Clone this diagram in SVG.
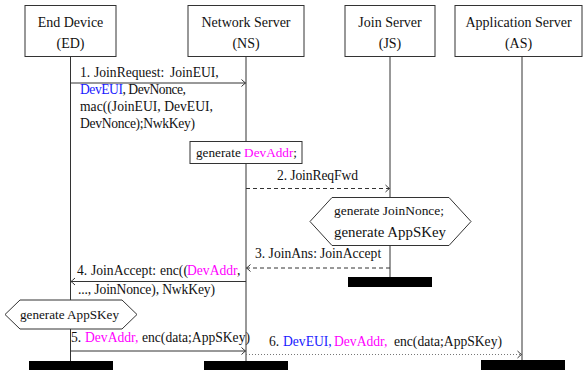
<svg xmlns="http://www.w3.org/2000/svg" width="586" height="371" viewBox="0 0 586 371">
<defs>
<style>
text{font-family:"Liberation Serif","Times New Roman",serif;fill:#111;}
.t{font-size:14px;}
.l{font-size:13.6px;}
.s{font-size:13.3px;}
.b{fill:#1a1aff;}
.m{fill:#ff00ff;}
.box{fill:#fff;stroke:#333;stroke-width:1;}
.life{stroke:#333;stroke-width:1;fill:none;}
.msg{stroke:#333;stroke-width:1;fill:none;marker-end:url(#ah);}
.dash{stroke-dasharray:4,3;}
.dot{stroke-dasharray:1,2;stroke:#777;}
.bar{fill:#000;}
</style>
<marker id="ah" markerUnits="userSpaceOnUse" markerWidth="10" markerHeight="10" refX="0" refY="0" viewBox="-6 -5 8 10" orient="auto">
<path d="M-4,-3.5 Q-1.2,-0.8 0,0 Q-1.2,0.8 -4,3.5" fill="none" stroke="#333" stroke-width="1"/>
</marker>
</defs>

<g id="lifelines">
<line class="life" x1="70.5" y1="56.5" x2="70.5" y2="361"/>
<line class="life" x1="246" y1="56.5" x2="246" y2="361"/>
<line class="life" x1="390" y1="56.5" x2="390" y2="277"/>
<line class="life" x1="522" y1="56.5" x2="522" y2="360"/>
</g>

<g id="ED">
<rect class="box" x="25" y="5.5" width="91" height="51"/>
<text class="t" x="70.5" y="27" text-anchor="middle">End Device</text>
<text class="t" x="70.5" y="48" text-anchor="middle">(ED)</text>
<rect class="bar" x="29" y="361" width="84" height="9"/>
</g>

<g id="NS">
<rect class="box" x="188" y="5.5" width="116" height="51"/>
<text class="t" x="246" y="27" text-anchor="middle">Network Server</text>
<text class="t" x="246" y="48" text-anchor="middle">(NS)</text>
<rect class="bar" x="204" y="361" width="84" height="9"/>
</g>

<g id="JS">
<rect class="box" x="345" y="5.5" width="90" height="51"/>
<text class="t" x="390" y="27" text-anchor="middle">Join Server</text>
<text class="t" x="390" y="48" text-anchor="middle">(JS)</text>
<rect class="bar" x="348" y="277" width="84" height="10"/>
</g>

<g id="AS">
<rect class="box" x="455" y="5.5" width="127" height="51"/>
<text class="t" x="518.5" y="27" text-anchor="middle">Application Server</text>
<text class="t" x="518.5" y="48" text-anchor="middle">(AS)</text>
<rect class="bar" x="481" y="360" width="84" height="10"/>
</g>

<g id="genDevAddr">
<rect class="box" x="190" y="141.5" width="112" height="22"/>
<text class="s" x="196" y="157" textLength="101" lengthAdjust="spacingAndGlyphs">generate <tspan class="m">DevAddr</tspan>;</text>
</g>

<g id="genJS">
<polygon class="box" points="310,221.5 332,197.5 449,197.5 471,221.5 449,245.5 332,245.5"/>
<text class="s" x="334" y="215" textLength="110" lengthAdjust="spacingAndGlyphs">generate JoinNonce;</text>
<text class="t" x="334" y="237" textLength="112" lengthAdjust="spacingAndGlyphs" style="font-size:14.8px">generate AppSKey</text>
</g>

<g id="genED">
<polygon class="box" points="5,314.5 20,300 122,300 137,314.5 122,329 20,329"/>
<text class="s" x="20" y="319" textLength="99" lengthAdjust="spacingAndGlyphs">generate AppSKey</text>
</g>

<g id="connectors">
<line class="msg" x1="70.5" y1="83" x2="245.5" y2="83"/>
<line class="msg dash" x1="246" y1="188.5" x2="389.5" y2="188.5"/>
<line class="msg dash" x1="390" y1="268" x2="246.5" y2="268"/>
<line class="msg" x1="246" y1="281.5" x2="71" y2="281.5"/>
<line class="msg" x1="70.5" y1="351" x2="245.5" y2="351"/>
<line class="msg dot" x1="246" y1="354.5" x2="521.5" y2="354.5"/>
</g>

<g id="labels">
<text class="l" y="77"><tspan x="80">1.</tspan><tspan x="94">JoinRequest:</tspan><tspan x="170">JoinEUI,</tspan></text>
<text class="l" x="80" y="94" textLength="106" lengthAdjust="spacing"><tspan class="b">DevEUI</tspan>, DevNonce,</text>
<text class="l" x="80" y="111" textLength="133" lengthAdjust="spacing">mac((JoinEUI, DevEUI,</text>
<text class="l" x="80" y="128" textLength="115" lengthAdjust="spacing">DevNonce);NwkKey)</text>
<text class="l" x="277" y="180" textLength="81" lengthAdjust="spacing">2. JoinReqFwd</text>
<text class="l" y="258"><tspan x="255">3. JoinAns:</tspan><tspan x="320">JoinAccept</tspan></text>
<text class="l" y="275"><tspan x="77">4.</tspan><tspan x="91">JoinAccept:</tspan><tspan x="160">enc((</tspan><tspan x="187" class="m">DevAddr</tspan>,</text>
<text class="l" x="78" y="294" textLength="137" lengthAdjust="spacing">..., JoinNonce), NwkKey)</text>
<text class="l" y="342"><tspan x="71">5.</tspan><tspan x="85" class="m">DevAddr,</tspan><tspan x="142">enc(data;AppSKey)</tspan></text>
<text class="l" y="346"><tspan x="269">6.</tspan><tspan x="283" class="b">DevEUI,</tspan><tspan x="334" class="m">DevAddr,</tspan><tspan x="394">enc(data;AppSKey)</tspan></text>
</g>
</svg>
